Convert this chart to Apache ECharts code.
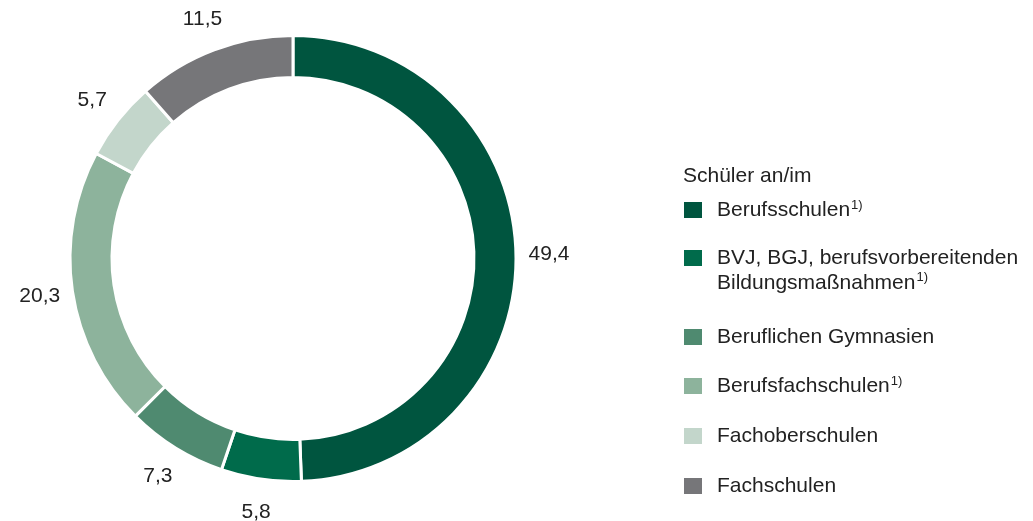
<!DOCTYPE html>
<html>
<head>
<meta charset="utf-8">
<script src="https://cdn.jsdelivr.net/npm/echarts@6/dist/echarts.min.js"></script>
<style>
  html, body { margin: 0; padding: 0; background: #fff; }
  #chart { width: 1033px; height: 521px; }
</style>
</head>
<body>
<div id="chart"></div>
<script>
// Daten
let names = ['Berufsschulen', 'BVJ, BGJ, berufsvorbereitenden Bildungsmaßnahmen', 'Beruflichen Gymnasien', 'Berufsfachschulen', 'Fachoberschulen', 'Fachschulen']
let values = [49.4, 5.8, 7.3, 20.3, 5.7, 11.5]
let footnote = [true, true, false, true, false, false]
let colors = ['#00553f', '#006b4b', '#4f8a70', '#8db39c', '#c3d6cb', '#767679']
let legendTitle = 'Schüler an/im'

let _$ = (dom) => document.querySelector(dom)
let font = '"Liberation Sans", Arial, sans-serif'

let fmt = (v) => String(v).replace('.', ',')

// Legende: eine pro Eintrag, damit die Abstände passen
let legendTops = [199, 220.5, 326, 375, 425, 475]
let legends = names.map((name, i) => {
    let twoLine = i === 1
    return {
        orient: 'vertical',
        left: 682,
        top: legendTops[i],
        padding: 0,
        itemWidth: 20,
        itemHeight: 18,
        icon: 'rect',
        selectedMode: false,
        data: [{ name: name, itemStyle: { color: colors[i], opacity: 1 } }],
        formatter: (n) => {
            let text = twoLine ? 'BVJ, BGJ, berufsvorbereitenden\nBildungsmaßnahmen' : n
            return footnote[i] ? `{t|${text}}{s|1)}` : `{t|${text}}`
        },
        textStyle: {
            fontFamily: font,
            fontSize: 21,
            color: '#222',
            lineHeight: twoLine ? 25 : 22,
            padding: twoLine ? [25, 0, 0, 9] : [0, 0, 0, 9],
            rich: {
                t: { fontFamily: font, fontSize: 21, color: '#222', lineHeight: twoLine ? 25 : 22 },
                s: { fontFamily: font, fontSize: 13, color: '#222', verticalAlign: 'top', lineHeight: 20, padding: [0, 0, 0, 1] }
            }
        }
    }
})

let pieData = names.map((name, i) => ({ name: name, value: values[i], itemStyle: { color: colors[i] } }))

let option = {
    animation: false,
    title: {
        text: legendTitle,
        left: 683,
        top: 166,
        padding: 0,
        textStyle: { fontFamily: font, fontSize: 21, fontWeight: 'normal', color: '#222' }
    },
    legend: legends,
    series: [{
        type: 'pie',
        center: [293, 258.5],
        radius: [181, 223],
        startAngle: 90,
        clockwise: true,
        avoidLabelOverlap: false,
        label: { show: false },
        labelLine: { show: false },
        itemStyle: { borderColor: '#fff', borderWidth: 3 },
        emphasis: { disabled: true },
        data: pieData
    }, {
        // unsichtbarer Ring nur für die Beschriftungen
        type: 'pie',
        center: [293, 259],
        radius: [233, 273],
        startAngle: 90,
        clockwise: true,
        silent: true,
        avoidLabelOverlap: false,
        itemStyle: { color: 'rgba(255,255,255,0)', borderWidth: 0 },
        label: {
            show: true,
            position: 'inside',
            fontFamily: font,
            fontSize: 21,
            color: '#222',
            formatter: (p) => fmt(p.value)
        },
        labelLine: { show: false },
        emphasis: { disabled: true },
        data: names.map((name, i) => ({ name: name, value: values[i] }))
    }]
}

let myChart = echarts.init(_$('#chart'))
myChart.setOption(option)
</script>
</body>
</html>
